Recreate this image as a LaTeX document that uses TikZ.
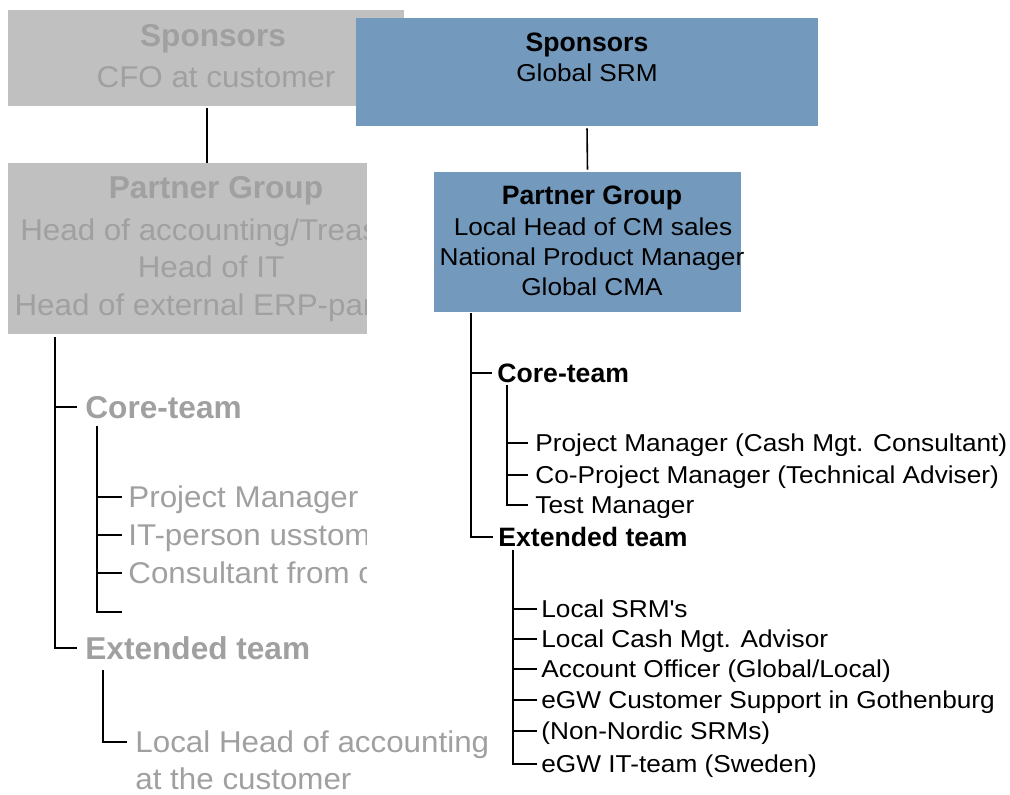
\documentclass[tikz,border=0pt]{standalone}
\usepackage{fontspec}
\setmainfont{Liberation Sans}
\newfontfamily\rwide{Liberation Sans}[FakeStretch=1.075]
\newfontfamily\gwide{Liberation Sans}[FakeStretch=1.045]
\usepackage{xcolor}
\usetikzlibrary{calc,fit}

\definecolor{sponsorblue}{HTML}{7399BD}
\definecolor{oldgray}{HTML}{C0C0C0}
\definecolor{oldtext}{HTML}{A0A0A0}

\tikzset{
  orgbox/.style={fill=#1, draw=none, inner sep=0pt},
  rline/.style={inner sep=0pt, text height=8.7pt, text depth=0pt, font=\rwide\fontsize{12.2}{15}\selectfont},
  rhead/.style={rline, text height=9.5pt, font=\fontsize{13.3}{15}\selectfont\bfseries},
  gline/.style={inner sep=0pt, text=oldtext, text height=10.7pt, text depth=0pt, font=\gwide\fontsize{15}{18}\selectfont},
  ghead/.style={gline, text height=11.3pt, font=\fontsize{15.8}{18}\selectfont\bfseries},
  link/.style={line width=0.8pt},
  twig/.style={link, shorten >=#1},
  twig/.default=2.5pt,
}

\begin{document}
\begin{tikzpicture}[x=0.5pt, y=-0.5pt]
    \useasboundingbox (0,0) rectangle (1010,794);

    % Boxes (grey ones first, the blue sponsor box lies on top)
    \node[orgbox=oldgray, fit={(8,10) (404,106)}] (spL) {};
    \node[orgbox=oldgray, fit={(8,163) (367,334)}] (pgL) {};
    \node[orgbox=sponsorblue, fit={(356,18) (818,126)}] (spR) {};
    \node[orgbox=sponsorblue, fit={(434,172) (741,312)}] (pgR) {};

    % Grey texts, cut off at the box edge
    \begin{scope}
        \clip (0,0) rectangle (366,794);
        \node[ghead] (spLt) at (213,35) {Sponsors};
        \node[gline] (spLa) at (216,77) {CFO at customer};
        \node[ghead] (pgLt) at (216,187) {Partner Group};
        \node[gline] (pgLa) at (221,230) {Head of accounting/Treasury};
        \node[gline] (pgLb) at (211,267) {Head of IT};
        \node[gline] (pgLc) at (221,305) {Head of external ERP-partner};
        \foreach \y/\t [count=\i] in {497/Project Manager, 535/IT-person usstomer, 573/Consultant from customer}
            \node[gline, anchor=west] (coreL\i) at (128,\y) {\t};
    \end{scope}

    % Blue texts
    \node[rhead] (spRt) at (587,42) {Sponsors};
    \node[rline] (spRa) at (587,73) {Global SRM};
    \node[rhead] (pgRt) at (592,195) {Partner Group};
    \node[rline] (pgRa) at (593,227) {Local Head of CM sales};
    \node[rline] (pgRb) at (592,257) {National Product Manager};
    \node[rline] (pgRc) at (592,287) {Global CMA};

    % Sponsors -> partner group
    \coordinate (spLfoot) at (207,108);
    \draw[link] (spLfoot) -- (spLfoot |- pgL.north);
    \draw[link, shorten <=1pt, shorten >=1pt] (spR.south) -- (pgR.north);

    % Left tree
    \coordinate (trunkL) at (55,337);
    \node[ghead, anchor=west] (coreL) at (85,407) {Core-team};
    \node[ghead, anchor=west] (extL) at (85,648) {Extended team};
    \draw[twig=4pt] (trunkL) |- (extL.west);
    \draw[twig=4pt] (trunkL |- coreL.west) -- (coreL.west);

    \coordinate (coreLtrunk) at (97,426);
    \coordinate (coreLend) at (122,612);
    \draw[twig=0pt] (coreLtrunk) |- (coreLend);
    \foreach \i in {1,2,3}
        \draw[twig=3pt] (coreLtrunk |- coreL\i.west) -- (coreL\i.west);

    \coordinate (extLtrunk) at (103,670);
    \node[gline, anchor=west] (extL1) at (135,742) {Local Head of accounting};
    \node[gline, anchor=west] (extL2) at (135,779) {at the customer};
    \draw[twig=4pt] (extLtrunk) |- (extL1.west);

    % Right tree
    \coordinate (trunkR) at (471,313);
    \node[rhead, anchor=west] (coreR) at (497,373) {Core-team};
    \node[rhead, anchor=west] (extR) at (498,537) {Extended team};
    \draw[twig] (trunkR) |- (extR.west);
    \draw[twig] (trunkR |- coreR.west) -- (coreR.west);

    \coordinate (coreRtrunk) at (507,385);
    \foreach \y/\t [count=\i] in {443/Project Manager (Cash Mgt. Consultant),
                                  475/Co-Project Manager (Technical Adviser),
                                  505/Test Manager}
        \node[rline, anchor=west] (coreR\i) at (535,\y) {\t};
    \draw[twig=3.5pt] (coreRtrunk) |- (coreR3.west);
    \foreach \i in {1,2}
        \draw[twig=3.5pt] (coreRtrunk |- coreR\i.west) -- (coreR\i.west);

    \coordinate (extRtrunk) at (513,550);
    \foreach \y/\t [count=\i] in {609/Local SRM\textquotesingle s,
                                  639/Local Cash Mgt. Advisor,
                                  669/{Account Officer (Global/Local)},
                                  700/eGW Customer Support in Gothenburg,
                                  731/(Non-Nordic SRMs),
                                  764/eGW IT-team (Sweden)}
        \node[rline, anchor=west] (extR\i) at (541,\y) {\t};
    \draw[twig=2pt] (extRtrunk) |- (extR6.west);
    \foreach \i in {1,...,5}
        \draw[twig=2pt] (extRtrunk |- extR\i.west) -- (extR\i.west);
\end{tikzpicture}
\end{document}
